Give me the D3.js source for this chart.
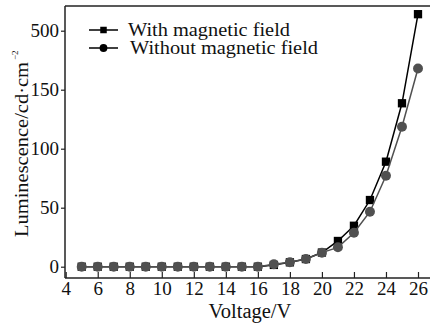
<!DOCTYPE html>
<html>
<head>
<meta charset="utf-8">
<script src="https://cdn.jsdelivr.net/npm/d3@7"></script>
<style>
  body { margin: 0; background: #fff; }
  text { font-family: 'Liberation Serif', 'Times New Roman', serif; fill: #111; }
</style>
</head>
<body>
<div id="chart"></div>
<script>
// voltages measured
const voltages = [5, 6, 7, 8, 9, 10, 11, 12, 13, 14, 15, 16, 17, 18, 19, 20, 21, 22, 23, 24, 25, 26]
const withField = [0, 0, 0, 0, 0, 0, 0, 0, 0, 0, 0, 0, 1.5, 3.7, 6.5, 12, 21.8, 34.7, 56.5, 89, 138.5, 214]
const withoutField = [0, 0, 0, 0, 0, 0, 0, 0, 0, 0, 0, 0, 2, 3.7, 6.5, 11.9, 16.4, 28.8, 46.6, 77, 118.6, 168]
const xTicks = [4, 6, 8, 10, 12, 14, 16, 18, 20, 22, 24, 26]
const yTicks = [0, 50, 100, 150, 200]
const yTickLabels = ['0', '50', '100', '150', '500'] // as printed in the original figure

const width = 430
const height = 323
const margin = { top: 6, right: 0, bottom: 45, left: 65 }

const xScale = d3.scaleLinear()
  .domain([4, 26])
  .range([65.7, 418])

const yScale = d3.scaleLinear()
  .domain([0, 200])
  .range([266.7, 30.7])

const svg = d3.select('#chart').append('svg')
  .attr('width', width)
  .attr('height', height)

const plotBottom = height - margin.bottom

// x axis, ticks point inside
const xAxis = svg.append('g')
  .attr('transform', 'translate(0,' + plotBottom + ')')
  .call(d3.axisBottom(xScale).tickValues(xTicks).tickSizeInner(-6).tickSizeOuter(0).tickPadding(4))
xAxis.select('.domain').attr('d', `M${margin.left},0H${width}`).attr('stroke', '#222').attr('stroke-width', 1.5)
xAxis.selectAll('.tick line').attr('stroke', '#222').attr('stroke-width', 1.2)
xAxis.selectAll('.tick text').style('font-size', '19px').attr('fill', '#111')

// y axis, ticks point outside
const yAxis = svg.append('g')
  .attr('transform', 'translate(' + margin.left + ',0)')
  .call(d3.axisLeft(yScale).tickValues(yTicks).tickFormat((d, i) => yTickLabels[i]).tickSizeInner(4).tickSizeOuter(0).tickPadding(2))
yAxis.select('.domain').attr('d', `M0,${margin.top}V${plotBottom}`).attr('stroke', '#222').attr('stroke-width', 1.5)
yAxis.selectAll('.tick line').attr('stroke', '#222').attr('stroke-width', 1.2)
yAxis.selectAll('.tick text').style('font-size', '19px').attr('fill', '#111')

// top frame line
svg.append('line')
  .attr('x1', margin.left).attr('x2', width)
  .attr('y1', margin.top).attr('y2', margin.top)
  .attr('stroke', '#222').attr('stroke-width', 1.5)

// axis titles
svg.append('text')
  .attr('x', 250).attr('y', 318)
  .attr('text-anchor', 'middle')
  .style('font-size', '20.5px')
  .text('Voltage/V')

const yTitle = svg.append('g')
  .attr('transform', 'translate(28,237) rotate(-90)')
yTitle.append('text')
  .attr('x', 0).attr('y', 0)
  .attr('textLength', 175)
  .attr('lengthAdjust', 'spacingAndGlyphs')
  .style('font-size', '18.5px')
  .text('Luminescence/cd·cm')
yTitle.append('text')
  .attr('x', 177).attr('y', -10)
  .style('font-size', '9px')
  .text('−2')

const line = d3.line()
  .x((d) => xScale(d[0]))
  .y((d) => yScale(d[1]))

const series = [
  { name: 'With magnetic field', values: withField, color: '#000', shape: 'square', textW: 162 },
  { name: 'Without magnetic field', values: withoutField, color: '#505050', shape: 'circle', textW: 188 }
]

const drawMarker = (g, shape, color, x, y, size) => {
  if (shape === 'square') {
    g.append('rect')
      .attr('x', x - size / 2).attr('y', y - size / 2)
      .attr('width', size).attr('height', size)
      .attr('fill', color)
  } else {
    g.append('circle')
      .attr('cx', x).attr('cy', y)
      .attr('r', size * 0.6)
      .attr('fill', color)
  }
}

series.forEach((s) => {
  const pts = voltages.map((v, i) => [v, s.values[i]])
  svg.append('path')
    .datum(pts)
    .attr('fill', 'none')
    .attr('stroke', s.color)
    .attr('stroke-width', 1.5)
    .attr('d', line)

  const g = svg.append('g')
  pts.forEach((p) => drawMarker(g, s.shape, s.color, xScale(p[0]), yScale(p[1]), 8.3))
})

// legend
const legend = svg.append('g')
series.forEach((s, i) => {
  const y = 30 + i * 18
  legend.append('line')
    .attr('x1', 89).attr('x2', 118)
    .attr('y1', y).attr('y2', y)
    .attr('stroke', '#000').attr('stroke-width', 1.5)
  drawMarker(legend, s.shape, '#000', 103.5, y, 6.5)
  legend.append('text')
    .attr('x', 128 + i * 2).attr('y', y + 6)
    .attr('textLength', s.textW)
    .attr('lengthAdjust', 'spacingAndGlyphs')
    .style('font-size', '18.5px')
    .text(s.name)
})
</script>
</body>
</html>
